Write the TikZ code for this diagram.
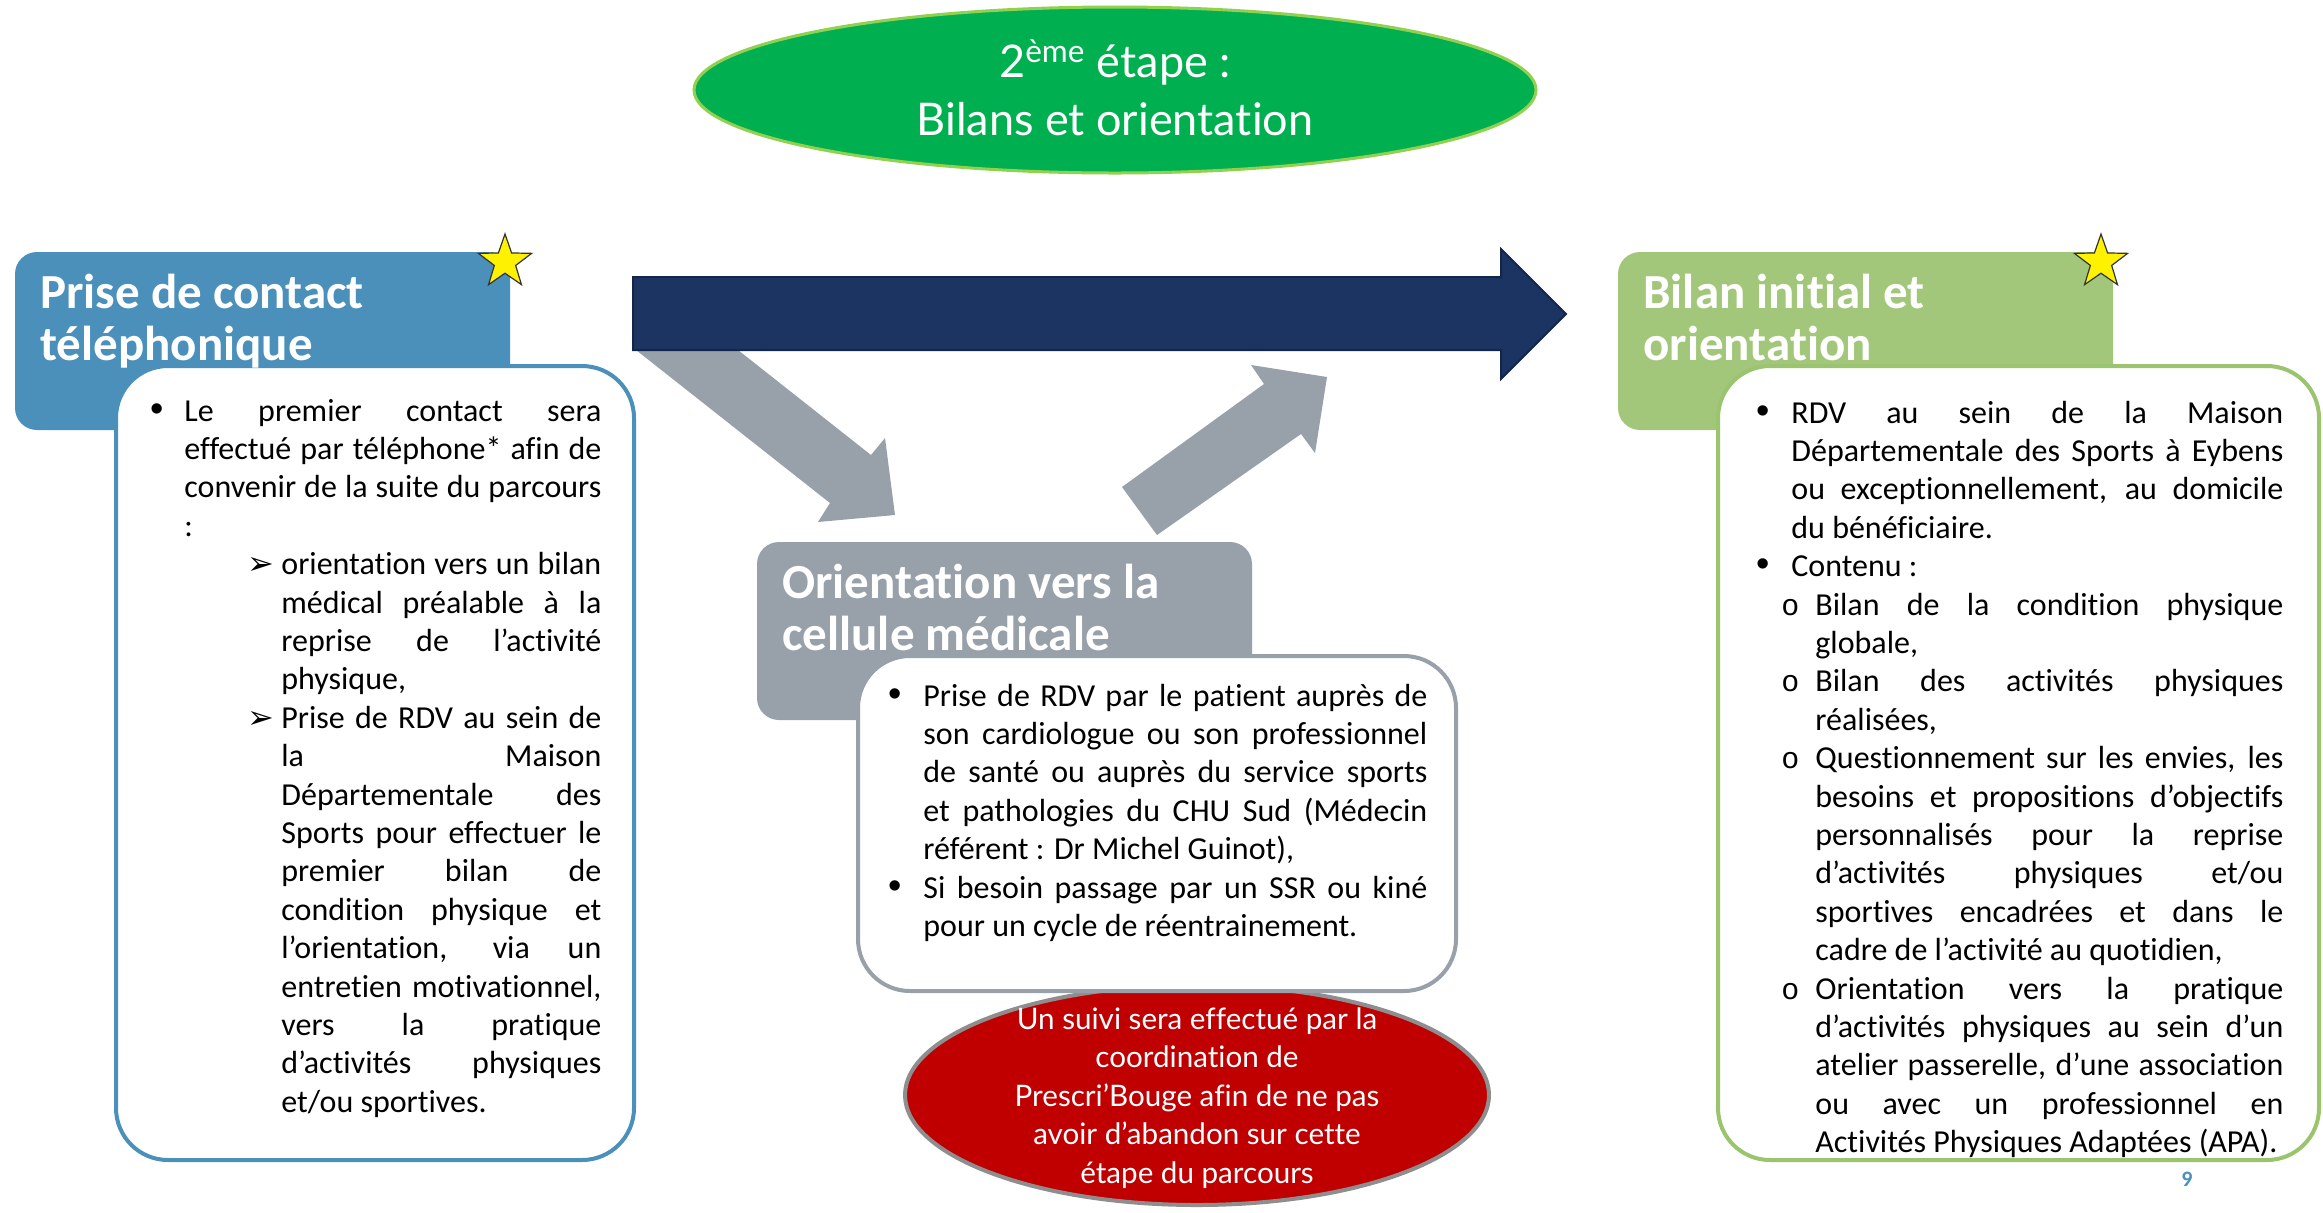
\documentclass[tikz,border=0pt]{standalone}
\usepackage{fontspec}
\setmainfont{Carlito}[Ligatures={NoCommon}]
\newfontfamily\lato{Lato}[Ligatures={NoCommon}]
\newfontfamily\dvs{DejaVu Sans}
\newfontfamily\lsans{Liberation Sans}
\newfontfamily\lmono{Liberation Mono}
\usetikzlibrary{shapes.geometric}
\definecolor{navy}{HTML}{1C3461}
\definecolor{navyline}{HTML}{13254A}
\definecolor{greyarr}{HTML}{98A1AA}
\definecolor{hblue}{HTML}{4A90BB}
\definecolor{hgreen}{HTML}{A2C77B}
\definecolor{bgreen}{HTML}{9BC46E}
\definecolor{tgreen}{HTML}{00B050}
\definecolor{tgreenline}{HTML}{92D050}
\definecolor{dred}{HTML}{C00000}
\definecolor{redline}{HTML}{8E8E8E}
\newcommand\BL[5]{\hbox{\hbox to #3{\hskip#1\relax#2\hss}\hbox to #4{#5}}}
\newcommand\BN[4]{\hbox{\hbox to #3{\hskip#1\relax#2\hss}#4}}
\newcommand\JL[3]{\hbox{\hskip#1\relax\hbox to #2{#3}}}
\newcommand\NL[2]{\hbox{\hskip#1\relax#2}}
\newcommand\bul{{\lsans\fontsize{19pt}{19pt}\selectfont •}}
\newcommand\arr{{\dvs\fontsize{16pt}{16pt}\selectfont ➢}}
\newcommand\ob{{\lmono\fontsize{15pt}{15pt}\selectfont o}}
\tikzset{
  hdr/.style={rounded corners=11pt, minimum width=247.5pt, minimum height=89pt, inner sep=0pt, draw=none},
  wbox/.style={fill=white, rounded corners=26pt, line width=2pt, inner sep=0pt},
  starshape/.style={star, star points=5, star point ratio=2.5, fill=yellow, draw=black!80, line width=0.6pt, minimum size=28pt, inner sep=0pt},
  htext/.style={font=\fontsize{24.5pt}{26pt}\selectfont\bfseries, text=white, anchor=base west, inner sep=0pt},
  body/.style={anchor=base west, inner sep=0pt, font=\fontsize{16pt}{19.2pt}\selectfont},
  bigarrow/.style={fill=greyarr, draw=none}
}
\begin{document}
\begin{tikzpicture}[x=0.5pt,y=-0.5pt]
\useasboundingbox (0,0) rectangle (2323,1212);
\fill[white] (0,0) rectangle (2323,1212);

% title ellipse
\node[ellipse, fill=tgreen, draw=tgreenline, line width=1.5pt, minimum width=421pt, minimum height=83pt, inner sep=0pt] (title) at (1115,90) {};
\node[align=center, text=white, font=\lato\fontsize{22.5pt}{29pt}\selectfont, inner sep=0pt] (titletext) at (1115,88) {2\textsuperscript{ème} étape :\\Bilans et orientation};

% grey block arrows
\fill[bigarrow] (636,350) -- (830,503) -- (818,522) -- (895,515) -- (885,438) -- (871,455) -- (738,350) -- cycle;
\fill[bigarrow] (1122,487) -- (1264,384) -- (1251,365) -- (1327,377) -- (1315,453) -- (1301,434) -- (1157,535) -- cycle;
% navy arrow
\filldraw[fill=navy, draw=navyline, line width=1pt] (633,277) -- (1501,277) -- (1501,249) -- (1566,314) -- (1501,379) -- (1501,350) -- (633,350) -- cycle;

% left block
\node[hdr, fill=hblue] (h1) at (262.5,341) {};
\node[wbox, draw=hblue, minimum width=259pt, minimum height=397pt] (b1) at (375,763) {};
\node[starshape] (s1) at (505,262) {};
\node[htext] (t1) at (40,308) {\vtop{\baselineskip=26pt\hbox{Prise de contact}\hbox{téléphonique}}};
\node[body] (x1) at (150,421) {\vtop{\baselineskip=19.2pt
 \BL{0pt}{\bul}{17pt}{208.5pt}{Le premier contact sera}
 \JL{17pt}{208.5pt}{effectué par téléphone* afin de}
 \JL{17pt}{208.5pt}{convenir de la suite du parcours}
 \NL{17pt}{:}
 \BL{48.5pt}{\arr}{65.5pt}{160pt}{orientation vers un bilan}
 \JL{65.5pt}{160pt}{médical préalable à la}
 \JL{65.5pt}{160pt}{reprise de l’activité}
 \NL{65.5pt}{physique,}
 \BL{48.5pt}{\arr}{65.5pt}{160pt}{Prise de RDV au sein de}
 \JL{65.5pt}{160pt}{la Maison}
 \JL{65.5pt}{160pt}{Départementale des}
 \JL{65.5pt}{160pt}{Sports pour effectuer le}
 \JL{65.5pt}{160pt}{premier bilan de}
 \JL{65.5pt}{160pt}{condition physique et}
 \JL{65.5pt}{160pt}{l’orientation, via un}
 \JL{65.5pt}{160pt}{entretien motivationnel,}
 \JL{65.5pt}{160pt}{vers la pratique}
 \JL{65.5pt}{160pt}{d’activités physiques}
 \NL{65.5pt}{et/ou sportives.}
}};

% middle block
\node[ellipse, fill=dred, draw=redline, line width=2pt, minimum width=292pt, minimum height=110pt, inner sep=0pt] (red) at (1197,1095) {};
\node[hdr, fill=greyarr] (h2) at (1004.5,631) {};
\node[wbox, draw=greyarr, minimum width=299pt, minimum height=167.5pt] (b2) at (1157,823.5) {};
\node[htext] (t2) at (782,598) {\vtop{\baselineskip=26pt\hbox{Orientation vers la}\hbox{cellule médicale}}};
\node[body] (x2) at (888,706) {\vtop{\baselineskip=19.2pt
 \BL{0pt}{\bul}{17.5pt}{252pt}{Prise de RDV par le patient auprès de}
 \JL{17.5pt}{252pt}{son cardiologue ou son professionnel}
 \JL{17.5pt}{252pt}{de santé ou auprès du service sports}
 \JL{17.5pt}{252pt}{et pathologies du CHU Sud (Médecin}
 \NL{17.5pt}{référent : Dr Michel Guinot),}
 \BL{0pt}{\bul}{17.5pt}{252pt}{Si besoin passage par un SSR ou kiné}
 \NL{17.5pt}{pour un cycle de réentrainement.}
}};
\node[align=center, text=white, font=\lato\fontsize{14.8pt}{19.25pt}\selectfont, inner sep=0pt] (redtext) at (1197,1098) {Un suivi sera effectué par la\\coordination de\\Prescri’Bouge afin de ne pas\\avoir d’abandon sur cette\\étape du parcours};

% right block
\node[hdr, fill=hgreen] (h3) at (1865.5,341) {};
\node[wbox, draw=bgreen, minimum width=300.5pt, minimum height=397pt] (b3) at (2018.5,763) {};
\node[starshape] (s3) at (2101,262) {};
\node[htext] (t3) at (1643,308) {\vtop{\baselineskip=26pt\hbox{Bilan initial et}\hbox{orientation}}};
\node[body] (x3) at (1756,423) {\vtop{\baselineskip=19.2pt
 \BL{0pt}{\bul}{17.5pt}{246pt}{RDV au sein de la Maison}
 \JL{17.5pt}{246pt}{Départementale des Sports à Eybens}
 \JL{17.5pt}{246pt}{ou exceptionnellement, au domicile}
 \NL{17.5pt}{du bénéficiaire.}
 \BN{0pt}{\bul}{17.5pt}{Contenu :}
 \BL{12.5pt}{\ob}{29.5pt}{234pt}{Bilan de la condition physique}
 \NL{29.5pt}{globale,}
 \BL{12.5pt}{\ob}{29.5pt}{234pt}{Bilan des activités physiques}
 \NL{29.5pt}{réalisées,}
 \BL{12.5pt}{\ob}{29.5pt}{234pt}{Questionnement sur les envies, les}
 \JL{29.5pt}{234pt}{besoins et propositions d’objectifs}
 \JL{29.5pt}{234pt}{personnalisés pour la reprise}
 \JL{29.5pt}{234pt}{d’activités physiques et/ou}
 \JL{29.5pt}{234pt}{sportives encadrées et dans le}
 \NL{29.5pt}{cadre de l’activité au quotidien,}
 \BL{12.5pt}{\ob}{29.5pt}{234pt}{Orientation vers la pratique}
 \JL{29.5pt}{234pt}{d’activités physiques au sein d’un}
 \JL{29.5pt}{234pt}{atelier passerelle, d’une association}
 \JL{29.5pt}{234pt}{ou avec un professionnel en}
 \NL{29.5pt}{Activités Physiques Adaptées (APA).}
}};
\node[text=hblue, font=\fontsize{11pt}{13pt}\selectfont\bfseries, inner sep=0pt] (page) at (2187,1179) {9};
\end{tikzpicture}
\end{document}
